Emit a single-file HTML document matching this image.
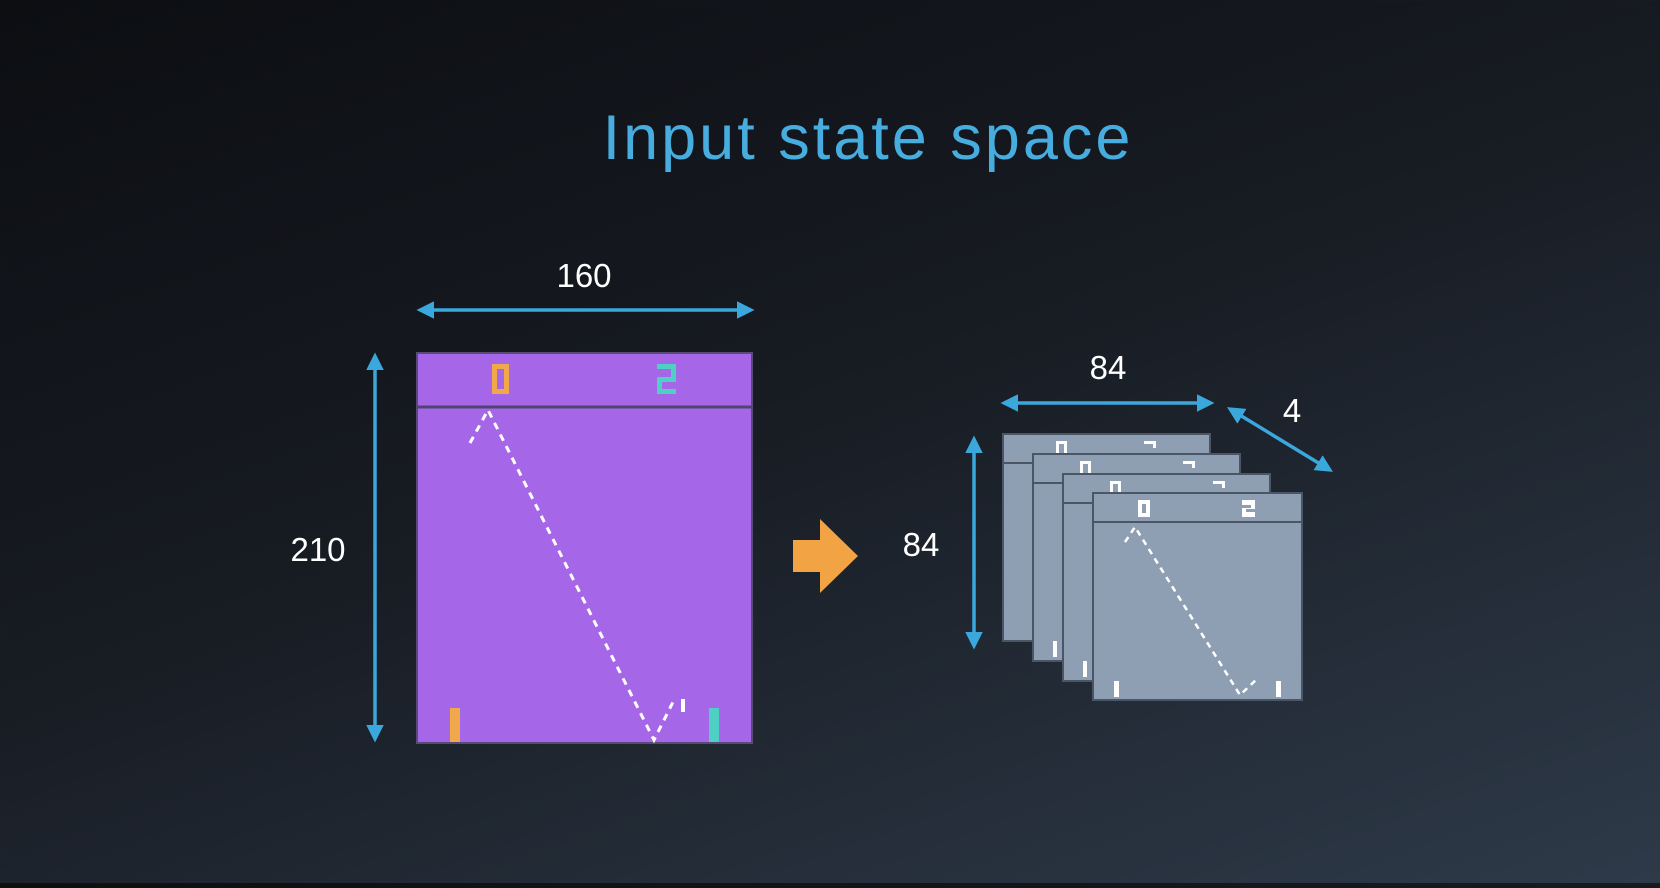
<!DOCTYPE html>
<html><head><meta charset="utf-8"><style>
html,body{margin:0;padding:0}
body{width:1660px;height:883px;overflow:hidden;background:linear-gradient(160deg,#0c0e12 0%,#171b22 45%,#2e3a49 100%);font-family:"Liberation Sans",sans-serif}
</style></head><body>
<svg width="1660" height="883" viewBox="0 0 1660 883" xmlns="http://www.w3.org/2000/svg">
<defs>
<marker id="a" viewBox="0 0 10 10" refX="8" refY="5" markerWidth="5" markerHeight="5" orient="auto-start-reverse"><path d="M0,0L10,5L0,10z" fill="#3aa8dc"/></marker>
</defs>
<text x="868" y="159" text-anchor="middle" font-size="63" letter-spacing="3" fill="#47addf" font-family="Liberation Sans,sans-serif">Input state space</text>
<g fill="#fff" font-size="33" text-anchor="middle">
<text x="584" y="287">160</text>
<text x="318" y="561">210</text>
<text x="1108" y="379">84</text>
<text x="921" y="556">84</text>
<text x="1292" y="422">4</text>
</g>
<g stroke="#3aa8dc" stroke-width="3.5" marker-start="url(#a)" marker-end="url(#a)">
<line x1="420" y1="310" x2="751" y2="310"/>
<line x1="375" y1="356" x2="375" y2="739"/>
<line x1="1004" y1="403" x2="1211" y2="403"/>
<line x1="974" y1="439" x2="974" y2="646"/>
<line x1="1230" y1="409" x2="1330" y2="470"/>
</g>
<rect x="417" y="353" width="335" height="390" fill="#a666e8" stroke="#5a4a78" stroke-width="2"/>
<line x1="417" y1="407" x2="752" y2="407" stroke="#4e4670" stroke-width="3"/>
<path d="M492,364h17v30h-17z M497,369v20h7v-20z" fill="#f0a84a" fill-rule="evenodd"/>
<path d="M657,364h19v18h-14v7h14v5h-19v-17h14v-8h-14z" fill="#4fd0c4"/>
<rect x="450" y="708" width="10" height="34" fill="#f0a84a"/>
<rect x="709" y="708" width="10" height="34" fill="#4fd0c4"/>
<rect x="681" y="699" width="4" height="13" fill="#fff"/>
<polyline points="470,443 488,410 654,740 673,702" fill="none" stroke="#fff" stroke-width="3" stroke-dasharray="7,6"/>
<path d="M793,540h27v-21l38,37l-38,37v-21h-27z" fill="#f2a444"/>
<rect x="1003" y="434" width="207" height="207" fill="#8e9fb4" stroke="#4a5566" stroke-width="2"/>
<line x1="1003" y1="463" x2="1210" y2="463" stroke="#4a5566" stroke-width="2"/>
<path d="M1056,441h11v13h-3v-10h-5v10h-3z M1144,441h12v7h-3v-4h-9z" fill="#fff"/>
<rect x="1033" y="454" width="207" height="207" fill="#8e9fb4" stroke="#4a5566" stroke-width="2"/>
<line x1="1033" y1="483" x2="1240" y2="483" stroke="#4a5566" stroke-width="2"/>
<path d="M1080,461h11v13h-3v-10h-5v10h-3z M1183,461h12v7h-3v-4h-9z" fill="#fff"/>
<rect x="1053" y="641" width="4" height="16" fill="#fff"/>
<rect x="1063" y="474" width="207" height="207" fill="#8e9fb4" stroke="#4a5566" stroke-width="2"/>
<line x1="1063" y1="503" x2="1270" y2="503" stroke="#4a5566" stroke-width="2"/>
<path d="M1110,481h11v13h-3v-10h-5v10h-3z M1213,481h12v7h-3v-4h-9z" fill="#fff"/>
<rect x="1083" y="661" width="4" height="16" fill="#fff"/>
<rect x="1093" y="493" width="209" height="207" fill="#8e9fb4" stroke="#4a5566" stroke-width="2"/>
<line x1="1093" y1="522" x2="1302" y2="522" stroke="#4a5566" stroke-width="2"/>
<path d="M1138,500h12v17h-12z M1142,504v9h4v-9z" fill="#fff" fill-rule="evenodd"/>
<path d="M1242,500h13v9h-9v3h9v5h-13v-9h9v-3h-9z" fill="#fff"/>
<rect x="1114" y="681" width="5" height="16" fill="#fff"/>
<rect x="1276" y="681" width="5" height="16" fill="#fff"/>
<polyline points="1125,542 1135,527 1240,695 1258,678" fill="none" stroke="#fff" stroke-width="2.5" stroke-dasharray="6,5"/>
</svg>
</body></html>
